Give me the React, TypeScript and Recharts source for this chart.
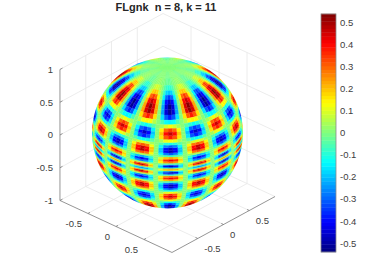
import { Scatter, ScatterChart, XAxis, YAxis } from "recharts";

const WIDTH = 383;
const HEIGHT = 276;
// one plot unit on screen, and where the sphere centre sits
const PX = 76;
const CENTER_X = 167.5;
const CENTER_Y = 133;

const gridTicks = [-0.5, 0, 0.5];
const zTicks = [-1, -0.5, 0, 0.5, 1];
const colorTicks = [-0.5, -0.4, -0.3, -0.2, -0.1, 0, 0.1, 0.2, 0.3, 0.4, 0.5];
const colorLimit = 0.54;
const levelCount = 64;

const latitudes = [
  88, 80, 72, 66, 62, 58, 54, 50, 46, 42, 38, 35, 32, 29.5, 27, 24, 22, 20, 18, 16, 14, 12.5, 11, 9, 7.5, 6, 5, 4, 3, 2,
  1.3, 0.5, -0.4, -1.4, -2.4, -3.4, -4.9, -6.4, -8.4, -9.9, -11.4, -13.4, -15.4, -17.4, -19.4, -21.4, -24.4, -26.9,
  -29.4, -32.4, -35.4, -39.4, -43.4, -47.4, -51.4, -55.4, -59.4, -70,
];

// one 45 degree stretch of longitude per row (the picture repeats it around the sphere), in hundredths
const lonStart = -45;
const lonStep = 3.75;
const fieldRows = [
  [1, 0, 1, 0, -1, 0, 1, 1, 0, -1, 0, 1],
  [-1, -1, 0, 0, 1, 1, 1, 1, 0, 0, -1, -1],
  [-3, -3, -1, 0, 1, 3, 3, 3, 1, 0, -1, -3],
  [-9, -8, -4, 0, 4, 8, 9, 8, 4, 0, -4, -8],
  [-20, -17, -8, 0, 8, 17, 20, 17, 8, 0, -8, -17],
  [-34, -29, -14, 0, 14, 29, 34, 29, 14, 0, -14, -29],
  [-46, -39, -19, 0, 19, 39, 46, 39, 19, 0, -19, -39],
  [-53, -45, -22, 0, 22, 45, 53, 45, 22, 0, -22, -45],
  [-52, -44, -22, 0, 22, 44, 52, 44, 22, 0, -22, -44],
  [-38, -32, -16, 0, 16, 32, 38, 32, 16, 0, -16, -32],
  [-14, -12, -6, 0, 6, 12, 14, 12, 6, 0, -6, -12],
  [12, 10, 5, 0, -5, -10, -12, -10, -5, 0, 5, 10],
  [34, 29, 14, 0, -14, -29, -34, -29, -14, 0, 14, 29],
  [46, 39, 19, 0, -19, -39, -46, -39, -19, 0, 19, 39],
  [38, 32, 16, 0, -16, -32, -38, -32, -16, 0, 16, 32],
  [13, 11, 5, 0, -5, -11, -13, -11, -5, 0, 5, 11],
  [-11, -9, -5, 0, 5, 9, 11, 9, 5, 0, -5, -9],
  [-32, -27, -13, 0, 13, 27, 32, 27, 13, 0, -13, -27],
  [-46, -39, -19, 0, 19, 39, 46, 39, 19, 0, -19, -39],
  [-48, -41, -20, 0, 20, 41, 48, 41, 20, 0, -20, -41],
  [-32, -27, -13, 0, 13, 27, 32, 27, 13, 0, -13, -27],
  [-6, -5, -3, 0, 3, 5, 6, 5, 3, 0, -3, -5],
  [22, 19, 9, 0, -9, -19, -22, -19, -9, 0, 9, 19],
  [42, 36, 18, 0, -18, -36, -42, -36, -18, 0, 18, 36],
  [28, 24, 12, 0, -12, -24, -28, -24, -12, 0, 12, 24],
  [-6, -5, -3, 0, 3, 5, 6, 5, 3, 0, -3, -5],
  [-34, -29, -14, 0, 14, 29, 34, 29, 14, 0, -14, -29],
  [-50, -43, -21, 0, 21, 43, 50, 43, 21, 0, -21, -43],
  [-26, -22, -11, 0, 11, 22, 26, 22, 11, 0, -11, -22],
  [10, 9, 4, 0, -4, -9, -10, -9, -4, 0, 4, 9],
  [30, 26, 13, 0, -13, -26, -30, -26, -13, 0, 13, 26],
  [10, 9, 4, 0, -4, -9, -10, -9, -4, 0, 4, 9],
  [-26, -22, -11, 0, 11, 22, 26, 22, 11, 0, -11, -22],
  [-50, -43, -21, 0, 21, 43, 50, 43, 21, 0, -21, -43],
  [-34, -29, -14, 0, 14, 29, 34, 29, 14, 0, -14, -29],
  [-6, -5, -3, 0, 3, 5, 6, 5, 3, 0, -3, -5],
  [28, 24, 12, 0, -12, -24, -28, -24, -12, 0, 12, 24],
  [42, 36, 18, 0, -18, -36, -42, -36, -18, 0, 18, 36],
  [22, 19, 9, 0, -9, -19, -22, -19, -9, 0, 9, 19],
  [-6, -5, -3, 0, 3, 5, 6, 5, 3, 0, -3, -5],
  [-32, -27, -13, 0, 13, 27, 32, 27, 13, 0, -13, -27],
  [-48, -41, -20, 0, 20, 41, 48, 41, 20, 0, -20, -41],
  [-46, -39, -19, 0, 19, 39, 46, 39, 19, 0, -19, -39],
  [-32, -27, -13, 0, 13, 27, 32, 27, 13, 0, -13, -27],
  [-11, -9, -5, 0, 5, 9, 11, 9, 5, 0, -5, -9],
  [13, 11, 5, 0, -5, -11, -13, -11, -5, 0, 5, 11],
  [38, 32, 16, 0, -16, -32, -38, -32, -16, 0, 16, 32],
  [46, 39, 19, 0, -19, -39, -46, -39, -19, 0, 19, 39],
  [34, 29, 14, 0, -14, -29, -34, -29, -14, 0, 14, 29],
  [12, 10, 5, 0, -5, -10, -12, -10, -5, 0, 5, 10],
  [-14, -12, -6, 0, 6, 12, 14, 12, 6, 0, -6, -12],
  [-38, -32, -16, 0, 16, 32, 38, 32, 16, 0, -16, -32],
  [-52, -44, -22, 0, 22, 44, 52, 44, 22, 0, -22, -44],
  [-53, -45, -22, 0, 22, 45, 53, 45, 22, 0, -22, -45],
  [-46, -39, -19, 0, 19, 39, 46, 39, 19, 0, -19, -39],
  [-34, -29, -14, 0, 14, 29, 34, 29, 14, 0, -14, -29],
  [-20, -17, -8, 0, 8, 17, 20, 17, 8, 0, -8, -17],
  [-3, -3, -1, 0, 1, 3, 3, 3, 1, 0, -1, -3],
];

const FONT = "'Liberation Sans', Arial, sans-serif";
const TEXT = "#404040";
const GRID = "#e7e7e7";
const AXIS = "#7a7a7a";

type Seg = { x: number; y: number; x2: number; y2: number };
type Uv = { x: number; y: number };

// orthographic view of the box, az about -43, el about 30
function project(px: number, py: number, pz: number): Uv {
  return { x: 0.737 * px + 0.678 * py, y: -0.342 * px + 0.368 * py + 0.862 * pz };
}

function seg(a: number[], b: number[]): Seg {
  const p = project(a[0], a[1], a[2]);
  const q = project(b[0], b[1], b[2]);
  return { x: p.x, y: p.y, x2: q.x, y2: q.y };
}

function jet(value: number) {
  const raw = Math.floor(((value + colorLimit) / (2 * colorLimit)) * levelCount);
  const t = (Math.min(levelCount - 1, Math.max(0, raw)) + 0.5) / levelCount;
  const ch = (c: number) => Math.round(255 * Math.min(1, Math.max(0, 1.5 - Math.abs(4 * t - c))));
  return `rgb(${ch(3)},${ch(2)},${ch(1)})`;
}

const gridLines: Seg[] = [
  ...zTicks.flatMap((t) => [seg([-1, -1, t], [-1, 1, t]), seg([-1, 1, t], [1, 1, t])]),
  ...gridTicks.flatMap((t) => [
    seg([t, -1, -1], [t, 1, -1]),
    seg([-1, t, -1], [1, t, -1]),
    seg([-1, t, -1], [-1, t, 1]),
    seg([t, 1, -1], [t, 1, 1]),
  ]),
];

const axisLines: Seg[] = [
  seg([-1, -1, -1], [-1, -1, 1]),
  seg([-1, -1, -1], [1, -1, -1]),
  seg([1, -1, -1], [1, 1, -1]),
  ...zTicks.map((t) => seg([-1, -1, t], [-1, -0.95, t])),
  ...gridTicks.map((t) => seg([t, -1, -1], [t, -0.96, -1])),
  ...gridTicks.map((t) => seg([1, t, -1], [0.96, t, -1])),
];

const tickText = [
  ...zTicks.map((t) => ({ ...project(-1, -1, t), label: String(t), anchor: "end", dx: -7, dy: 0 })),
  ...gridTicks.map((t) => ({ ...project(t, -1, -1), label: String(t), anchor: "end", dx: -6, dy: 10 })),
  ...gridTicks.map((t) => ({ ...project(1, t, -1), label: String(t), anchor: "start", dx: 6.5, dy: 10 })),
];

const RAD = Math.PI / 180;
const FRONT_LON = -47.3 * RAD;
const VIEW_EL = 30 * RAD;

function spherePoint(lat: number, lon: number) {
  const c = Math.cos(lat * RAD);
  return project(c * Math.cos(lon * RAD), c * Math.sin(lon * RAD), Math.sin(lat * RAD));
}

const cells = latitudes
  .flatMap((lat, r) => {
    const top = r === 0 ? 90 : (latitudes[r - 1] + lat) / 2;
    const bottom = r === latitudes.length - 1 ? -90 : (latitudes[r + 1] + lat) / 2;
    return Array.from({ length: 96 }, (_, k) => {
      const lon = lonStart + k * lonStep;
      const depth =
        Math.cos(lat * RAD) * Math.cos(lon * RAD - FRONT_LON) * Math.cos(VIEW_EL) +
        Math.sin(lat * RAD) * Math.sin(VIEW_EL);
      const half = lonStep / 2;
      return {
        ...spherePoint(lat, lon),
        depth,
        value: fieldRows[r][k % fieldRows[r].length] / 100,
        corners: [
          spherePoint(top, lon - half),
          spherePoint(top, lon + half),
          spherePoint(bottom, lon + half),
          spherePoint(bottom, lon - half),
        ],
      };
    }).filter((c) => c.depth > -0.08);
  })
  .sort((a, b) => a.depth - b.depth);

const levels = Array.from({ length: levelCount }, (_, i) => {
  const y1 = -colorLimit + (i * 2 * colorLimit) / levelCount;
  const y2 = y1 + (2 * colorLimit) / levelCount;
  return { x: 0.5, y: (y1 + y2) / 2, fill: jet((y1 + y2) / 2) };
});
const barFrame = [{ x: 0.5, y: 0 }];

const BAR_WIDTH = 15;
const BAR_HEIGHT = 238;

function SegmentShape({ cx, cy, payload, stroke, strokeWidth }: any) {
  return (
    <line
      x1={cx}
      y1={cy}
      x2={cx + (payload.x2 - payload.x) * PX}
      y2={cy - (payload.y2 - payload.y) * PX}
      stroke={stroke}
      strokeWidth={strokeWidth}
    />
  );
}

function CellShape({ cx, cy, payload }: any) {
  const pts = payload.corners
    .map((c: Uv) => `${cx + (c.x - payload.x) * PX},${cy - (c.y - payload.y) * PX}`)
    .join(" ");
  const fill = jet(payload.value);
  return <polygon points={pts} fill={fill} stroke={fill} strokeWidth={0.3} />;
}

function LabelShape({ cx, cy, payload }: any) {
  return (
    <text
      x={cx + payload.dx}
      y={cy + payload.dy}
      textAnchor={payload.anchor}
      dominantBaseline="central"
      fontFamily={FONT}
      fontSize={9.5}
      fill={TEXT}
    >
      {payload.label}
    </text>
  );
}

function LevelShape({ cx, cy, payload }: any) {
  const h = BAR_HEIGHT / levelCount;
  return (
    <rect x={cx - BAR_WIDTH / 2} y={cy - h / 2 - 0.2} width={BAR_WIDTH} height={h + 0.4} fill={payload.fill} />
  );
}

function FrameShape({ cx, cy }: any) {
  return (
    <rect
      x={cx - BAR_WIDTH / 2}
      y={cy - BAR_HEIGHT / 2}
      width={BAR_WIDTH}
      height={BAR_HEIGHT}
      fill="none"
      stroke="#8a8a8a"
      strokeWidth={0.8}
    />
  );
}

export default function App() {
  return (
    <div style={{ position: "absolute", left: 0, top: 0, width: WIDTH, height: HEIGHT, background: "#fff", overflow: "hidden" }}>
      <style>{`.sphere-cells { filter: url(#fieldBlur); clip-path: url(#sphereClip); }`}</style>
      <svg width={0} height={0} style={{ position: "absolute" }}>
        <defs>
          <filter id="fieldBlur" x="-5%" y="-5%" width="110%" height="110%" colorInterpolationFilters="sRGB">
            <feGaussianBlur stdDeviation={0.5} />
          </filter>
          <clipPath id="sphereClip" clipPathUnits="userSpaceOnUse">
            <circle cx={CENTER_X} cy={CENTER_Y} r={75.5} />
          </clipPath>
        </defs>
      </svg>
      <div
        style={{
          position: "absolute",
          left: 0,
          top: 0,
          width: 332,
          textAlign: "center",
          font: `bold 11px ${FONT}`,
          lineHeight: "14px",
          color: "#262626",
          whiteSpace: "pre",
        }}
      >
        {"FLgnk  n = 8, k = 11"}
      </div>
      <div style={{ position: "absolute", left: 0, top: 0 }}>
        <ScatterChart width={WIDTH} height={HEIGHT} margin={{ top: 0, right: 0, bottom: 0, left: 0 }}>
          <XAxis type="number" dataKey="x" hide domain={[-CENTER_X / PX, (WIDTH - CENTER_X) / PX]} />
          <YAxis type="number" dataKey="y" hide domain={[(CENTER_Y - HEIGHT) / PX, CENTER_Y / PX]} />
          <Scatter
            data={gridLines}
            isAnimationActive={false}
            shape={(p: any) => <SegmentShape {...p} stroke={GRID} strokeWidth={0.8} />}
          />
          <Scatter
            data={axisLines}
            isAnimationActive={false}
            shape={(p: any) => <SegmentShape {...p} stroke={AXIS} strokeWidth={0.8} />}
          />
          <Scatter data={tickText} isAnimationActive={false} shape={LabelShape} />
          <Scatter data={cells} className="sphere-cells" isAnimationActive={false} shape={CellShape} />
        </ScatterChart>
      </div>
      <div style={{ position: "absolute", left: 0, top: 0 }}>
        <ScatterChart width={WIDTH} height={HEIGHT} margin={{ top: 14, right: 0, bottom: 24, left: 321 }}>
          <XAxis type="number" dataKey="x" hide domain={[0, 1]} />
          <YAxis
            type="number"
            dataKey="y"
            orientation="right"
            width={47}
            domain={[-colorLimit, colorLimit]}
            ticks={colorTicks}
            interval={0}
            axisLine={false}
            tickSize={-2}
            tickMargin={6}
            tickLine={{ stroke: "#555" }}
            tick={{ fontSize: 9.5, fontFamily: FONT, fill: TEXT }}
          />
          <Scatter data={levels} isAnimationActive={false} shape={LevelShape} />
          <Scatter data={barFrame} isAnimationActive={false} shape={FrameShape} />
        </ScatterChart>
      </div>
    </div>
  );
}
